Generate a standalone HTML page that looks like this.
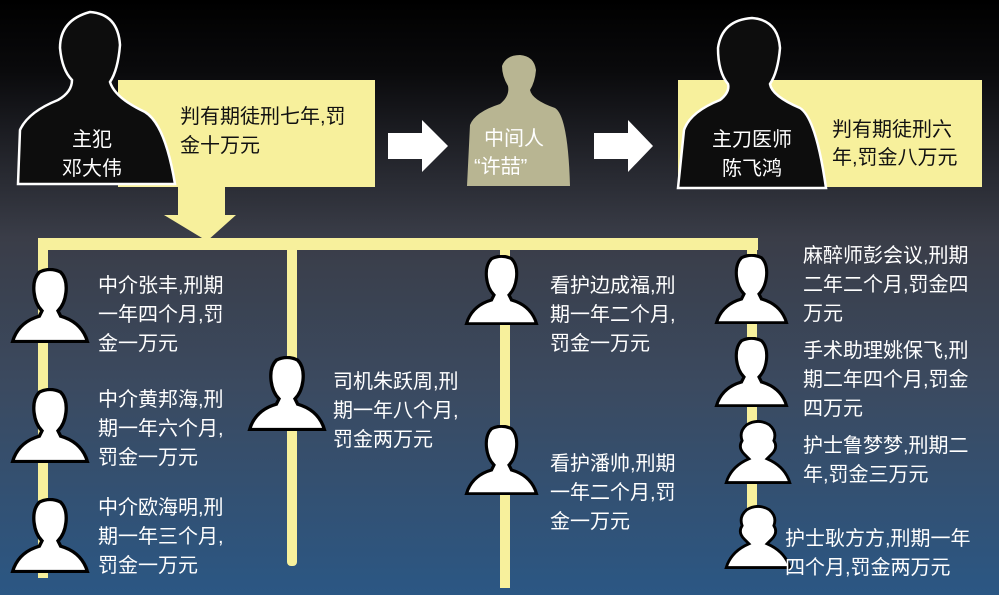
<!DOCTYPE html>
<html><head><meta charset="utf-8"><style>
body{margin:0;width:999px;height:595px;overflow:hidden;background:#000}
svg{display:block}
text{font-family:"Liberation Sans","Noto Sans CJK SC",sans-serif;fill:#fff;font-size:20px}
.k{fill:#111}
</style></head><body>
<svg width="999" height="595" viewBox="0 0 999 595">
<defs>
<linearGradient id="bg" x1="0" y1="0" x2="0" y2="1">
<stop offset="0" stop-color="#000"/><stop offset="0.12" stop-color="#0a0a0c"/>
<stop offset="0.4" stop-color="#3a3d48"/><stop offset="0.65" stop-color="#3b4a60"/>
<stop offset="1" stop-color="#2b5784"/></linearGradient>
<symbol id="p" viewBox="0 0 60 56">
<path d="M22 3 Q30 -1 38 3 Q43 8 42 18 Q41 27 36 32 L38 36 Q52 40 57 52 L58 55 L2 55 L3 52 Q8 40 22 36 L24 32 Q19 27 18 18 Q17 8 22 3Z" fill="#fff" stroke="#000" stroke-width="2.5"/>
</symbol>
<symbol id="f" viewBox="0 0 60 56">
<path d="M20 4 Q30 -2 40 4 Q47 10 44 18 Q48 24 42 30 L38 34 Q52 40 57 52 L58 55 L2 55 L3 52 Q8 40 22 34 L18 30 Q12 24 16 18 Q13 10 20 4Z" fill="#fff" stroke="#000" stroke-width="2.5"/>
</symbol>
</defs>
<rect width="999" height="595" fill="url(#bg)"/>
<g fill="#f7f09c">
<rect x="38" y="238" width="720" height="12"/>
<rect x="38" y="238" width="10" height="340"/>
<rect x="287" y="238" width="10" height="328" rx="4"/>
<rect x="500" y="238" width="10" height="350"/>
<rect x="747" y="238" width="10" height="320"/>
<rect x="178" y="185" width="47" height="32"/>
<path d="M164 215 L236 215 L207 241 Z"/>
<rect x="118" y="80" width="257" height="107"/>
<rect x="678" y="80" width="304" height="107"/>
</g>
<path d="M388 133 L422 133 L422 120 L448 146 L422 172 L422 159 L388 159Z" fill="#fff"/>
<path d="M594 133 L628 133 L628 120 L653 146 L628 172 L628 159 L594 159Z" fill="#fff"/>
<path d="M18 184 L20 130 Q28 112 58 100 Q72 92 72 80 Q62 70 60 48 Q60 20 90 12 Q118 14 120 45 Q118 70 110 82 Q115 98 145 112 Q165 124 175 184Z" fill="#0d0d0d" stroke="#fff" stroke-width="2.5"/>
<text x="72" y="146">主犯</text><text x="62" y="175">邓大伟</text>
<text class="k" x="180" y="123">判有期徒刑七年,罚</text><text class="k" x="180" y="152">金十万元</text>
<path d="M467 186 L470 125 Q475 112 500 104 Q510 96 508 86 Q502 76 502 66 Q506 55 520 55 Q534 56 536 70 Q535 82 530 90 Q532 100 555 108 Q568 116 570 186Z" fill="#b8b592"/>
<text x="484" y="145">中间人</text><text x="474" y="173">“许喆”</text>
<path d="M678 188 L684 130 Q690 112 720 100 Q730 92 728 84 Q718 72 718 48 Q722 20 752 18 Q778 20 780 48 Q778 72 770 84 Q772 96 800 108 Q816 118 826 188Z" fill="#0d0d0d" stroke="#fff" stroke-width="2.5"/>
<text x="712" y="146">主刀医师</text><text x="722" y="175">陈飞鸿</text>
<text class="k" x="832" y="136">判有期徒刑六</text><text class="k" x="832" y="164">年,罚金八万元</text>
<use href="#p" x="10" y="268" width="80" height="75"/>
<use href="#p" x="10" y="388" width="80" height="75"/>
<use href="#p" x="10" y="498" width="80" height="75"/>
<use href="#p" x="247" y="356" width="80" height="75"/>
<use href="#p" x="464" y="255" width="75" height="70"/>
<use href="#p" x="464" y="425" width="75" height="70"/>
<use href="#p" x="714" y="254" width="75" height="70"/>
<use href="#p" x="714" y="337" width="75" height="70"/>
<use href="#f" x="724" y="420" width="68" height="64"/>
<use href="#f" x="724" y="505" width="68" height="64"/>
<g>
<text x="98" y="292">中介张丰,刑期</text><text x="98" y="321">一年四个月,罚</text><text x="98" y="350">金一万元</text>
<text x="98" y="406">中介黄邦海,刑</text><text x="98" y="435">期一年六个月,</text><text x="98" y="464">罚金一万元</text>
<text x="98" y="514">中介欧海明,刑</text><text x="98" y="543">期一年三个月,</text><text x="98" y="572">罚金一万元</text>
<text x="333" y="388">司机朱跃周,刑</text><text x="333" y="417">期一年八个月,</text><text x="333" y="446">罚金两万元</text>
<text x="550" y="292">看护边成福,刑</text><text x="550" y="321">期一年二个月,</text><text x="550" y="350">罚金一万元</text>
<text x="550" y="470">看护潘帅,刑期</text><text x="550" y="499">一年二个月,罚</text><text x="550" y="528">金一万元</text>
<text x="803" y="262">麻醉师彭会议,刑期</text><text x="803" y="291">二年二个月,罚金四</text><text x="803" y="320">万元</text>
<text x="803" y="357">手术助理姚保飞,刑</text><text x="803" y="386">期二年四个月,罚金</text><text x="803" y="415">四万元</text>
<text x="803" y="452">护士鲁梦梦,刑期二</text><text x="803" y="481">年,罚金三万元</text>
<text x="785" y="545">护士耿方方,刑期一年</text><text x="785" y="574">四个月,罚金两万元</text>
</g>
</svg>
</body></html>
